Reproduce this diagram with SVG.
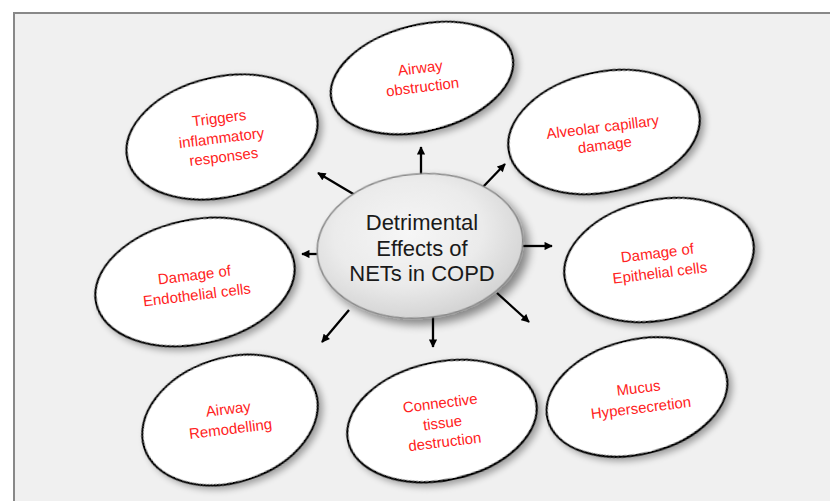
<svg xmlns="http://www.w3.org/2000/svg" width="830" height="501" viewBox="0 0 830 501">
<defs>
<filter id="sh" x="-30%" y="-30%" width="160%" height="160%">
<feGaussianBlur in="SourceAlpha" stdDeviation="3.5"/>
<feOffset dx="3" dy="4" result="b"/>
<feComponentTransfer><feFuncA type="linear" slope="0.35"/></feComponentTransfer>
<feMerge><feMergeNode/><feMergeNode in="SourceGraphic"/></feMerge>
</filter>
<filter id="shc" x="-30%" y="-30%" width="160%" height="160%">
<feGaussianBlur in="SourceAlpha" stdDeviation="5"/>
<feOffset dx="5" dy="6" result="b"/>
<feComponentTransfer><feFuncA type="linear" slope="0.45"/></feComponentTransfer>
<feMerge><feMergeNode/><feMergeNode in="SourceGraphic"/></feMerge>
</filter>
<radialGradient id="cg" cx="45%" cy="40%" r="60%">
<stop offset="0" stop-color="#f6f6f6"/>
<stop offset="0.6" stop-color="#ebebeb"/>
<stop offset="1" stop-color="#d4d4d4"/>
</radialGradient>
<marker id="ah" viewBox="0 0 10 10" refX="9" refY="5" markerWidth="4" markerHeight="3.6" orient="auto" markerUnits="strokeWidth">
<path d="M0,0 L10,5 L0,10 Z" fill="#000"/>
</marker>
<style>
.el{fill:#fff;stroke:#000;stroke-width:2.2;filter:url(#sh)}
.rt{font-family:"Liberation Sans",Arial,sans-serif;font-size:15px;fill:#f22;text-anchor:middle}
.ct{font-family:"Liberation Sans",Arial,sans-serif;font-size:22px;fill:#1a1a1a;text-anchor:middle}
.ar{stroke:#000;stroke-width:2.3;fill:none;marker-end:url(#ah)}
</style>
</defs>
<rect x="0" y="0" width="830" height="501" fill="#fff"/>
<rect x="14" y="13" width="830" height="500" fill="#f0f0f0" stroke="#888" stroke-width="2"/>

<g id="connectors">
<line class="ar" x1="355" y1="195" x2="318" y2="173"/>
<line class="ar" x1="421" y1="175" x2="421" y2="147"/>
<line class="ar" x1="482" y1="188" x2="505" y2="164"/>
<line class="ar" x1="522" y1="246" x2="552" y2="246"/>
<line class="ar" x1="328" y1="254" x2="302" y2="254"/>
<line class="ar" x1="349" y1="310" x2="322" y2="342"/>
<line class="ar" x1="433" y1="317" x2="433" y2="347"/>
<line class="ar" x1="497" y1="293" x2="529" y2="322"/>
</g>

<g id="center">
<ellipse cx="420" cy="246" rx="103" ry="72" transform="rotate(-5 420 246)" fill="url(#cg)" stroke="#8a8a8a" stroke-width="1.6" filter="url(#shc)"/>
<text class="ct" x="422" y="230">Detrimental</text>
<text class="ct" x="422" y="256">Effects of</text>
<text class="ct" x="422" y="281">NETs in COPD</text>
</g>

<g id="n-triggers">
<ellipse class="el" cx="222" cy="137" rx="97" ry="60" transform="rotate(-13 222 137)"/>
<g transform="rotate(-7 222 142)">
<text class="rt" x="222" y="123">Triggers</text>
<text class="rt" x="222" y="143">inflammatory</text>
<text class="rt" x="222" y="162">responses</text>
</g>
</g>

<g id="n-airway-obstruction">
<ellipse class="el" cx="422" cy="78" rx="93" ry="53" transform="rotate(-14 422 78)"/>
<g transform="rotate(-7 422 82)">
<text class="rt" x="422" y="73">Airway</text>
<text class="rt" x="422" y="92">obstruction</text>
</g>
</g>

<g id="n-alveolar">
<ellipse class="el" cx="604" cy="132" rx="97" ry="60" transform="rotate(-12 604 132)"/>
<g transform="rotate(-7 604 138)">
<text class="rt" x="604" y="132">Alveolar capillary</text>
<text class="rt" x="604" y="150">damage</text>
</g>
</g>

<g id="n-epithelial">
<ellipse class="el" cx="659" cy="260" rx="96" ry="60" transform="rotate(-12 659 260)"/>
<g transform="rotate(-7 659 266)">
<text class="rt" x="659" y="258">Damage of</text>
<text class="rt" x="659" y="278">Epithelial cells</text>
</g>
</g>

<g id="n-endothelial">
<ellipse class="el" cx="195" cy="282" rx="101" ry="62" transform="rotate(-12 195 282)"/>
<g transform="rotate(-7 196 288)">
<text class="rt" x="196" y="280">Damage of</text>
<text class="rt" x="196" y="300">Endothelial cells</text>
</g>
</g>

<g id="n-remodelling">
<ellipse class="el" cx="230" cy="420" rx="90" ry="62" transform="rotate(-18 230 420)"/>
<g transform="rotate(-7 230 424)">
<text class="rt" x="230" y="414">Airway</text>
<text class="rt" x="230" y="434">Remodelling</text>
</g>
</g>

<g id="n-connective">
<ellipse class="el" cx="442" cy="421" rx="96" ry="59" transform="rotate(-12 442 421)"/>
<g transform="rotate(-7 443 427)">
<text class="rt" x="443" y="408">Connective</text>
<text class="rt" x="443" y="428">tissue</text>
<text class="rt" x="443" y="447">destruction</text>
</g>
</g>

<g id="n-mucus">
<ellipse class="el" cx="637" cy="397" rx="92" ry="57" transform="rotate(-14 637 397)"/>
<g transform="rotate(-7 640 400)">
<text class="rt" x="640" y="393">Mucus</text>
<text class="rt" x="640" y="413">Hypersecretion</text>
</g>
</g>
</svg>
